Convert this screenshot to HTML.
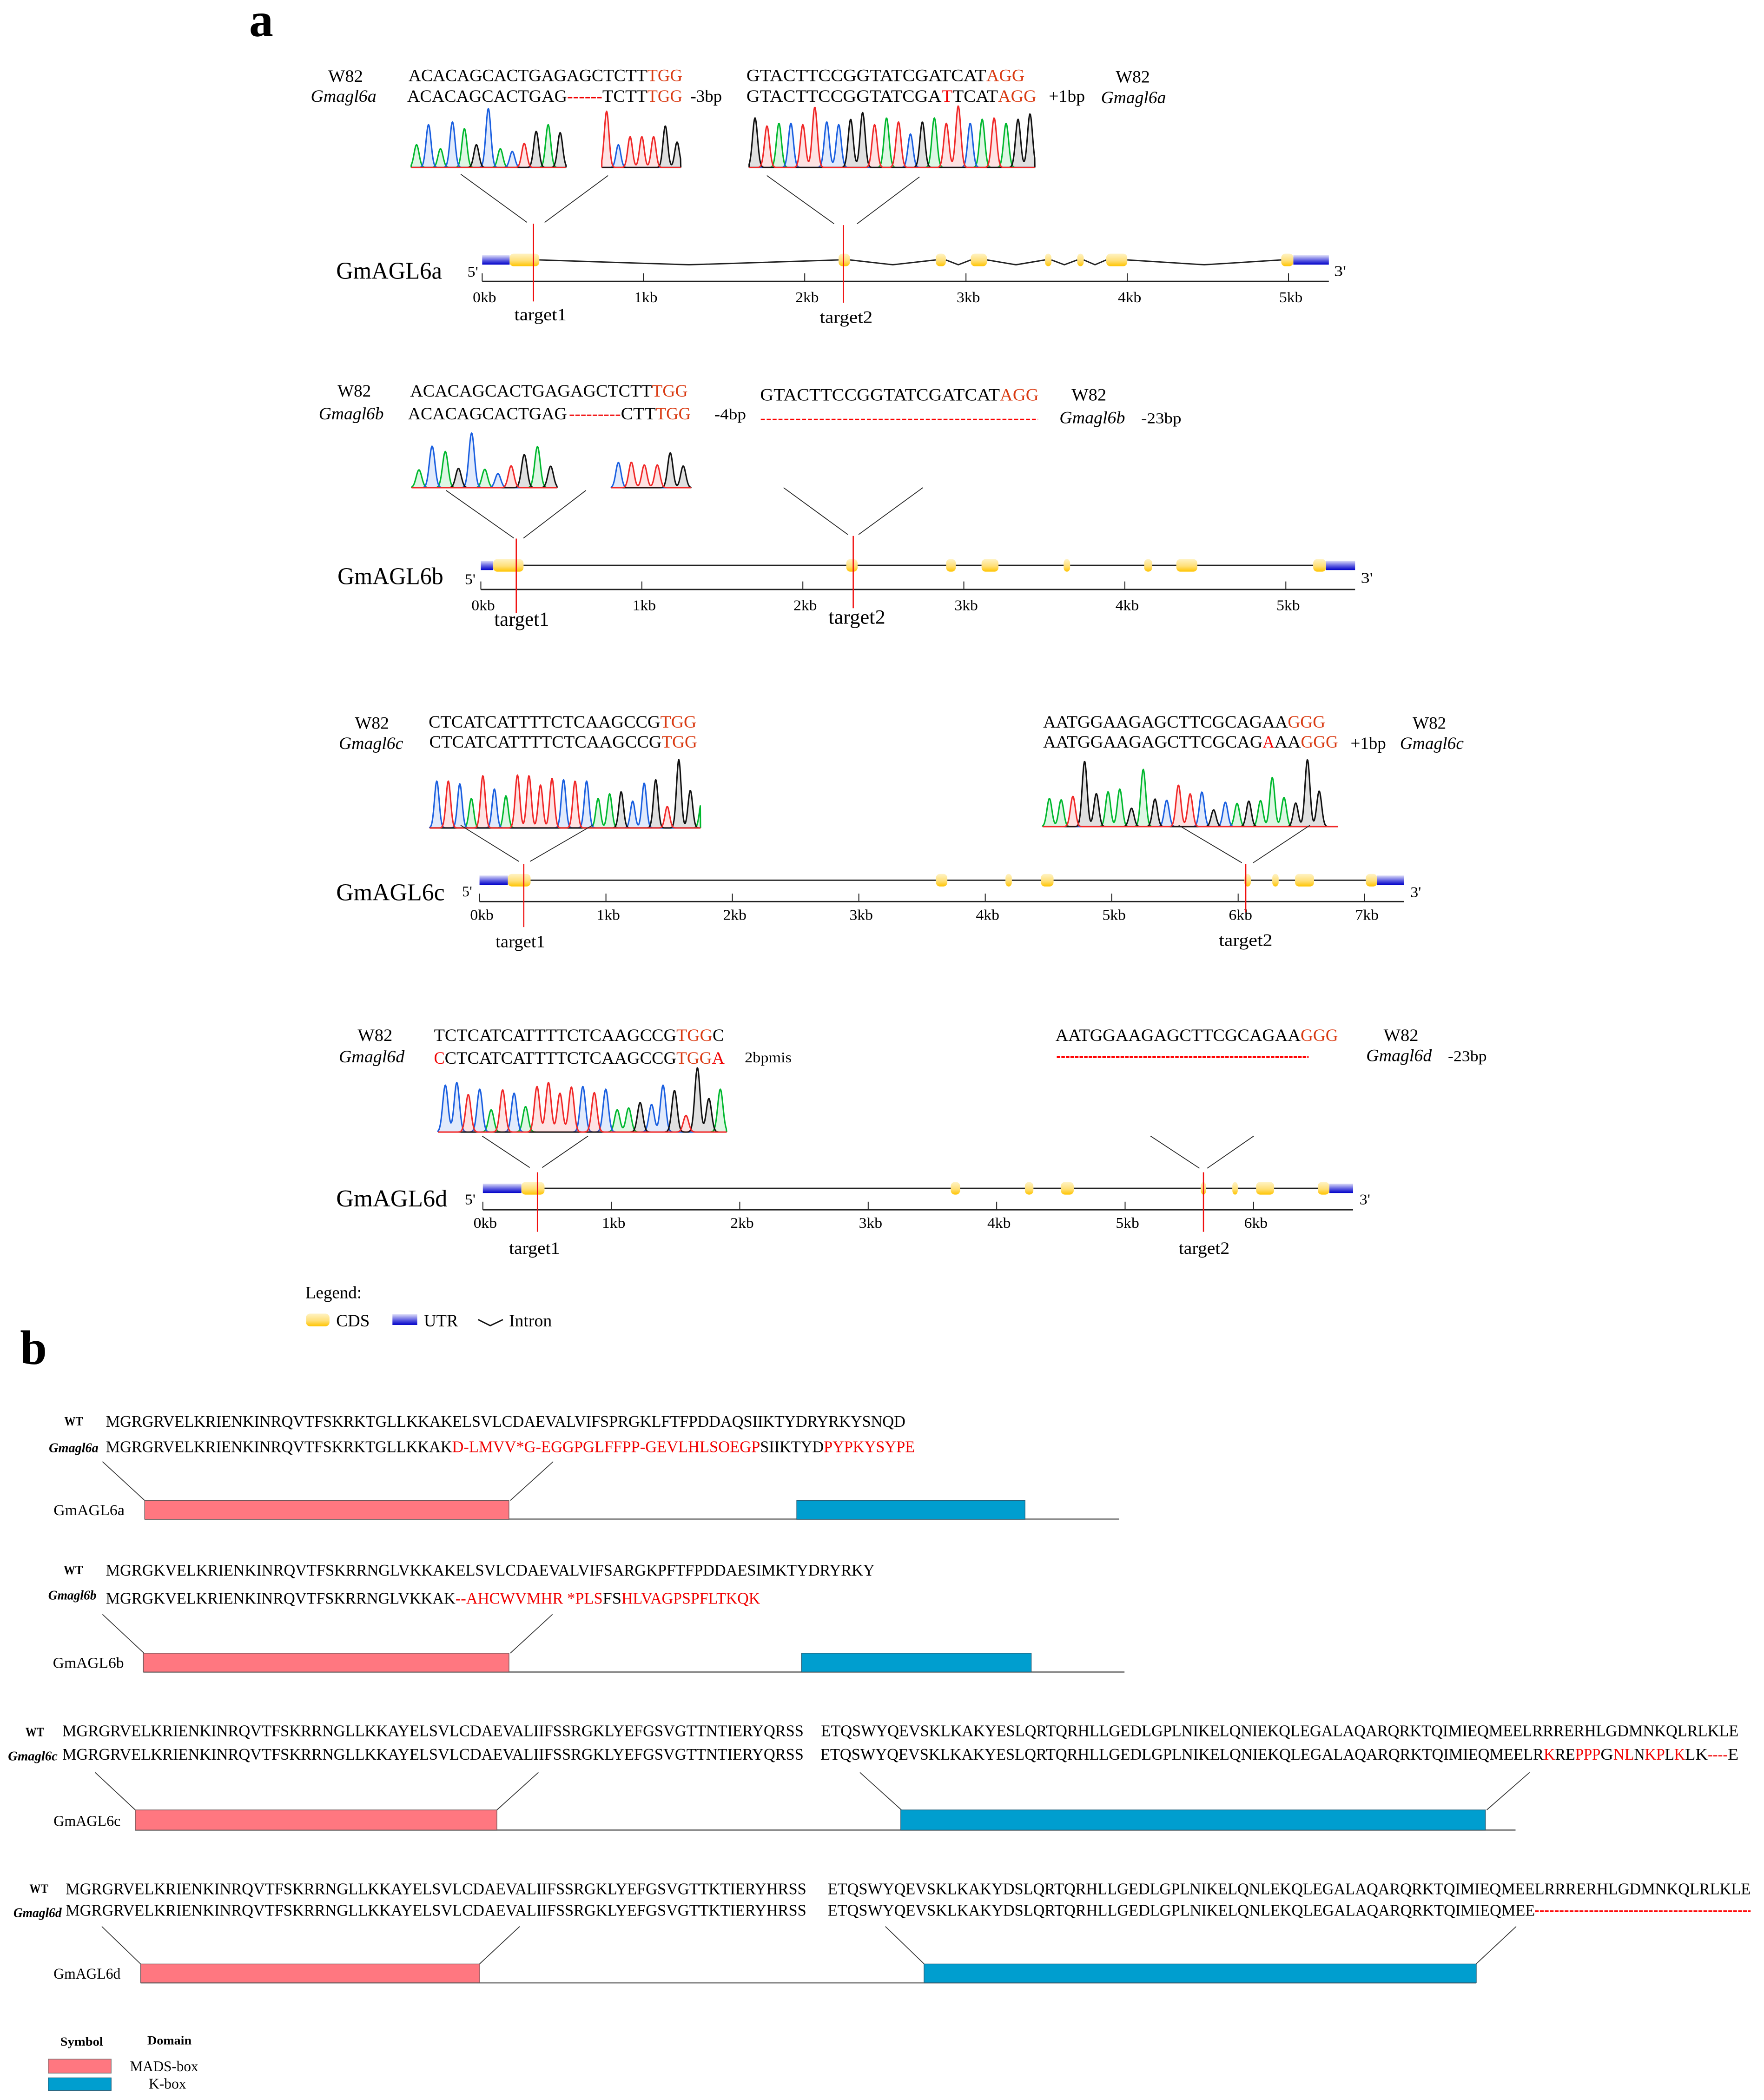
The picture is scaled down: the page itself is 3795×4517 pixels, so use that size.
<!DOCTYPE html>
<html lang="en">
<head>
<meta charset="utf-8">
<title>GmAGL6 CRISPR editing figure</title>
<style>
html,body{margin:0;padding:0;background:#fff}
svg{display:block}
text{font-family:"Liberation Serif","Noto Serif CJK SC",serif;fill:#000}
.seq{font-size:13px}
.lab{font-size:13px}
.it{font-size:13px;font-style:italic}
.sm{font-size:11.5px}
.r{fill:#d93a12}
.m{fill:#f00000}
.gene{font-size:18px}
.prime{font-size:11px}
.tgt{font-size:13px}
.tgtl{font-size:15px}
.aa{font-size:12px}
.wt{font-size:9.5px;font-weight:bold}
.bi{font-size:10px;font-weight:bold;font-style:italic}
.dom{font-size:11.5px}
.panel{font-size:36px;font-weight:bold}
.cap{font-size:9px;font-weight:bold}
.leg{font-size:11px}
</style>
</head>
<body>
<svg id="fig" xmlns="http://www.w3.org/2000/svg" width="3795" height="4517" viewBox="0 0 1317 1567.5">
<defs>
<linearGradient id="cdsGrad" x1="0" y1="0" x2="0" y2="1"><stop offset="0" stop-color="#fff3c4"/><stop offset="0.55" stop-color="#ffe07a"/><stop offset="1" stop-color="#ffc400"/></linearGradient>
<linearGradient id="utrGrad" x1="0" y1="0" x2="0" y2="1"><stop offset="0" stop-color="#dcdcf8"/><stop offset="0.55" stop-color="#5c5ce0"/><stop offset="1" stop-color="#0000c8"/></linearGradient>
</defs>
<rect x="0" y="0" width="1324" height="1576" fill="#fff"/>

<text class="panel" x="186" y="27">a</text>
<text class="panel" x="15" y="1018">b</text>

<!-- GmAGL6a sequences -->
<g>
<text class="lab" x="245" y="61" textLength="26">W82</text>
<text class="it" x="232" y="76" textLength="49">Gmagl6a</text>
<text class="seq" x="305" y="60.5" textLength="178">ACACAGCACTGAGAGCTCTT</text>
<text class="seq r" x="483.2" y="60.5" textLength="26.3">TGG</text>
<text class="seq" x="304" y="76" textLength="119.4">ACACAGCACTGAG</text>
<text class="seq m" x="423.4" y="76" textLength="26.3">------</text>
<text class="seq" x="449.7" y="76" textLength="33.5">TCTT</text>
<text class="seq r" x="483.2" y="76" textLength="26.3">TGG</text>
<text class="lab" x="515.5" y="76" textLength="23.5">-3bp</text>
<text class="seq" x="557.3" y="60.5" textLength="179">GTACTTCCGGTATCGATCAT</text>
<text class="seq r" x="736.4" y="60.5" textLength="28.6">AGG</text>
<text class="seq" x="557.3" y="76" textLength="145.6">GTACTTCCGGTATCGA</text>
<text class="seq m" x="702.9" y="76" textLength="8.3">T</text>
<text class="seq" x="711.2" y="76" textLength="33.9">TCAT</text>
<text class="seq r" x="745.1" y="76" textLength="28.7">AGG</text>
<text class="lab" x="783" y="76" textLength="27">+1bp</text>
<text class="lab" x="833" y="61.5" textLength="25.5">W82</text>
<text class="it" x="822" y="77" textLength="48.5">Gmagl6a</text>
</g>
<text class="gene" x="251" y="208" textLength="79">GmAGL6a</text>
<text class="prime" x="349" y="206.5" textLength="8">5'</text>
<text class="prime" x="996" y="206" textLength="9">3'</text>
<text class="tgt" x="384" y="239" textLength="39">target1</text>
<text class="tgt" x="612" y="241" textLength="39.5">target2</text>

<!-- GmAGL6b sequences -->
<g>
<text class="lab" x="252" y="296" textLength="25">W82</text>
<text class="it" x="238" y="313" textLength="48.5">Gmagl6b</text>
<text class="seq" x="306.2" y="296" textLength="180.5">ACACAGCACTGAGAGCTCTT</text>
<text class="seq r" x="486.7" y="296" textLength="26.8">TGG</text>
<text class="seq" x="304.6" y="313" textLength="118.7">ACACAGCACTGAG</text>
<text class="seq m" x="424.8" y="313" textLength="38.7">---------</text>
<text class="seq" x="463.5" y="313" textLength="26.1">CTT</text>
<text class="seq r" x="489.6" y="313" textLength="26.1">TGG</text>
<text class="sm" x="533.3" y="313" textLength="23.7">-4bp</text>
<text class="seq" x="567.5" y="299" textLength="179">GTACTTCCGGTATCGATCAT</text>
<text class="seq r" x="746.5" y="299" textLength="29">AGG</text>
<line x1="568" y1="313" x2="775" y2="313" stroke="#f00" stroke-width="0.9" stroke-dasharray="3 1.4"/>
<text class="lab" x="800" y="299" textLength="26">W82</text>
<text class="it" x="791" y="316" textLength="49">Gmagl6b</text>
<text class="sm" x="852" y="316" textLength="30">-23bp</text>
</g>
<text class="gene" x="252" y="436" textLength="79">GmAGL6b</text>
<text class="prime" x="347" y="436" textLength="8">5'</text>
<text class="prime" x="1016" y="435" textLength="9">3'</text>
<text class="tgtl" x="369" y="467" textLength="41">target1</text>
<text class="tgtl" x="618.5" y="465.5" textLength="42.5">target2</text>

<!-- GmAGL6c sequences -->
<g>
<text class="lab" x="265" y="544" textLength="25.5">W82</text>
<text class="it" x="253" y="559" textLength="48">Gmagl6c</text>
<text class="seq" x="320" y="543" textLength="173">CTCATCATTTTCTCAAGCCG</text>
<text class="seq r" x="493" y="543" textLength="27">TGG</text>
<text class="seq" x="320.5" y="558" textLength="173.5">CTCATCATTTTCTCAAGCCG</text>
<text class="seq r" x="494" y="558" textLength="26.5">TGG</text>
<text class="seq" x="778.8" y="543" textLength="182.6">AATGGAAGAGCTTCGCAGAA</text>
<text class="seq r" x="961.4" y="543" textLength="28.1">GGG</text>
<text class="seq" x="778.8" y="558" textLength="163.9">AATGGAAGAGCTTCGCAG</text>
<text class="seq m" x="942.7" y="558" textLength="8.8">A</text>
<text class="seq" x="951.5" y="558" textLength="19.7">AA</text>
<text class="seq r" x="971.2" y="558" textLength="27.8">GGG</text>
<text class="lab" x="1008.3" y="559" textLength="26.5">+1bp</text>
<text class="lab" x="1054.7" y="544" textLength="25">W82</text>
<text class="it" x="1045.2" y="559" textLength="47.6">Gmagl6c</text>
</g>
<text class="gene" x="251" y="672" textLength="81">GmAGL6c</text>
<text class="prime" x="345" y="669" textLength="7.5">5'</text>
<text class="prime" x="1053" y="669.5" textLength="8">3'</text>
<text class="tgt" x="370" y="707" textLength="37">target1</text>
<text class="tgt" x="910" y="706" textLength="40">target2</text>

<!-- GmAGL6d sequences -->
<g>
<text class="lab" x="267" y="777" textLength="26">W82</text>
<text class="it" x="253" y="793" textLength="49">Gmagl6d</text>
<text class="seq" x="324" y="777" textLength="181">TCTCATCATTTTCTCAAGCCG</text>
<text class="seq r" x="505" y="777" textLength="27">TGG</text>
<text class="seq" x="532" y="777" textLength="8.5">C</text>
<text class="seq m" x="324" y="794" textLength="8">C</text>
<text class="seq" x="332" y="794" textLength="173">CTCATCATTTTCTCAAGCCG</text>
<text class="seq r" x="505" y="794" textLength="26.5">TGG</text>
<text class="seq m" x="531.5" y="794" textLength="9.5">A</text>
<text class="leg" x="556" y="793" textLength="35">2bpmis</text>
<text class="seq" x="788" y="777" textLength="183">AATGGAAGAGCTTCGCAGAA</text>
<text class="seq r" x="971" y="777" textLength="28">GGG</text>
<line x1="789" y1="789" x2="977" y2="789" stroke="#f00" stroke-width="1.5" stroke-dasharray="2.6 0.8"/>
<text class="lab" x="1033" y="777" textLength="26">W82</text>
<text class="it" x="1020" y="792" textLength="49">Gmagl6d</text>
<text class="sm" x="1081" y="792" textLength="29">-23bp</text>
</g>
<text class="gene" x="251" y="900.5" textLength="83">GmAGL6d</text>
<text class="prime" x="347" y="899" textLength="8">5'</text>
<text class="prime" x="1015" y="899" textLength="8">3'</text>
<text class="tgt" x="380" y="936" textLength="38">target1</text>
<text class="tgt" x="880" y="936" textLength="38">target2</text>

<g id="traces"></g>
<g id="genes"></g>

<!-- zoom callouts -->
<g stroke="#222" stroke-width="0.6" fill="none">
<path d="M344 130L393.5 166M454 131L406.6 166"/>
<path d="M572.5 131L622.7 167M686.5 132L639.9 167"/>
<path d="M333 366L383.7 401.7M437.5 366L390.8 401.7"/>
<path d="M585 364L633 399M689 364L641 399"/>
<path d="M343.9 616L387.4 643M442.3 616L395.7 643"/>
<path d="M880 616L927.2 644M978 616L935.6 644"/>
<path d="M360 848L395.5 871.5M439 848L404.8 871.5"/>
<path d="M859 848L895.5 872M936 848L901.3 872"/>
</g>

<!-- panel a legend -->
<g>
<text class="lab" x="228" y="969" textLength="42">Legend:</text>
<rect x="228.5" y="980.5" width="17.5" height="9.5" rx="3" fill="url(#cdsGrad)"/>
<text class="lab" x="251" y="990" textLength="25">CDS</text>
<rect x="293" y="981" width="18.5" height="8" fill="url(#utrGrad)"/>
<text class="lab" x="316.5" y="990" textLength="25.5">UTR</text>
<path d="M357 985L366 989.5L375.5 985" fill="none" stroke="#111" stroke-width="1"/>
<text class="lab" x="380" y="990" textLength="32">Intron</text>
</g>

<!-- panel b text: GmAGL6a -->
<g>
<text class="wt" x="48" y="1064" textLength="14">WT</text>
<text class="aa" x="79" y="1065" textLength="597">MGRGRVELKRIENKINRQVTFSKRKTGLLKKAKELSVLCDAEVALVIFSPRGKLFTFPDDAQSIIKTYDRYRKYSNQD</text>
<text class="bi" x="36.5" y="1084" textLength="37">Gmagl6a</text>
<text class="aa" x="79" y="1084" textLength="258.5">MGRGRVELKRIENKINRQVTFSKRKTGLLKKAK</text>
<text class="aa m" x="337.5" y="1084" textLength="230">D-LMVV*G-EGGPGLFFPP-GEVLHLSOEGP</text>
<text class="aa" x="567.5" y="1084" textLength="47.5">SIIKTYD</text>
<text class="aa m" x="615" y="1084" textLength="68">PYPKYSYPE</text>
<text class="dom" x="40" y="1131" textLength="53">GmAGL6a</text>
<path d="M76.5 1091L108 1120M413 1091L381 1120" fill="none" stroke="#333" stroke-width="0.6"/>
</g>
<!-- GmAGL6b -->
<g>
<text class="wt" x="47.5" y="1175" textLength="14.5">WT</text>
<text class="aa" x="79" y="1176" textLength="574">MGRGKVELKRIENKINRQVTFSKRRNGLVKKAKELSVLCDAEVALVIFSARGKPFTFPDDAESIMKTYDRYRKY</text>
<text class="bi" x="36" y="1194" textLength="36">Gmagl6b</text>
<text class="aa" x="79" y="1197" textLength="261">MGRGKVELKRIENKINRQVTFSKRRNGLVKKAK</text>
<text class="aa m" x="340" y="1197" textLength="8">--</text>
<text class="aa m" x="348" y="1197" textLength="102">AHCWVMHR *PLS</text>
<text class="aa" x="450" y="1197" textLength="14">FS</text>
<text class="aa m" x="464" y="1197" textLength="103.5">HLVAGPSPFLTKQK</text>
<text class="dom" x="39.5" y="1245" textLength="53">GmAGL6b</text>
<path d="M76.5 1205L107.5 1234M412.5 1205L381 1234" fill="none" stroke="#333" stroke-width="0.6"/>
</g>
<!-- GmAGL6c -->
<g>
<text class="wt" x="19" y="1296" textLength="14">WT</text>
<text class="aa" x="46.5" y="1296" textLength="553.5">MGRGRVELKRIENKINRQVTFSKRRNGLLKKAYELSVLCDAEVALIIFSSRGKLYEFGSVGTTNTIERYQRSS</text>
<text class="aa" x="613" y="1296" textLength="685">ETQSWYQEVSKLKAKYESLQRTQRHLLGEDLGPLNIKELQNIEKQLEGALAQARQRKTQIMIEQMEELRRRERHLGDMNKQLRLKLE</text>
<text class="bi" x="6" y="1314" textLength="37">Gmagl6c</text>
<text class="aa" x="46.5" y="1313.5" textLength="553.5">MGRGRVELKRIENKINRQVTFSKRRNGLLKKAYELSVLCDAEVALIIFSSRGKLYEFGSVGTTNTIERYQRSS</text>
<text class="aa" x="612.5" y="1313.5" textLength="540">ETQSWYQEVSKLKAKYESLQRTQRHLLGEDLGPLNIKELQNIEKQLEGALAQARQRKTQIMIEQMEELR</text>
<text class="aa m" x="1152.5" y="1313.5" textLength="8.5">K</text>
<text class="aa" x="1161" y="1313.5" textLength="15">RE</text>
<text class="aa m" x="1176" y="1313.5" textLength="19">PPP</text>
<text class="aa" x="1195" y="1313.5" textLength="9.5">G</text>
<text class="aa m" x="1204.5" y="1313.5" textLength="15.5">NL</text>
<text class="aa" x="1220" y="1313.5" textLength="8">N</text>
<text class="aa m" x="1228" y="1313.5" textLength="15">KP</text>
<text class="aa" x="1243" y="1313.5" textLength="7">L</text>
<text class="aa m" x="1250" y="1313.5" textLength="8">K</text>
<text class="aa" x="1258" y="1313.5" textLength="17">LK</text>
<text class="aa m" x="1275" y="1313.5" textLength="15">----</text>
<text class="aa" x="1290" y="1313.5" textLength="8">E</text>
<text class="dom" x="40" y="1363" textLength="50">GmAGL6c</text>
<path d="M71 1323L101 1351M402 1323L371 1351M642 1323L673 1351M1142 1323L1110 1351" fill="none" stroke="#333" stroke-width="0.6"/>
</g>
<!-- GmAGL6d -->
<g>
<text class="wt" x="22" y="1413" textLength="14">WT</text>
<text class="aa" x="49" y="1414" textLength="553">MGRGRVELKRIENKINRQVTFSKRRNGLLKKAYELSVLCDAEVALIIFSSRGKLYEFGSVGTTKTIERYHRSS</text>
<text class="aa" x="618" y="1414" textLength="689">ETQSWYQEVSKLKAKYDSLQRTQRHLLGEDLGPLNIKELQNLEKQLEGALAQARQRKTQIMIEQMEELRRRERHLGDMNKQLRLKLE</text>
<text class="bi" x="10" y="1431" textLength="36">Gmagl6d</text>
<text class="aa" x="49" y="1430" textLength="553">MGRGRVELKRIENKINRQVTFSKRRNGLLKKAYELSVLCDAEVALIIFSSRGKLYEFGSVGTTKTIERYHRSS</text>
<text class="aa" x="618" y="1430" textLength="528">ETQSWYQEVSKLKAKYDSLQRTQRHLLGEDLGPLNIKELQNLEKQLEGALAQARQRKTQIMIEQMEE</text>
<line x1="1146" y1="1426.5" x2="1307" y2="1426.5" stroke="#f00" stroke-width="1" stroke-dasharray="2.8 0.9"/>
<text class="dom" x="40" y="1477" textLength="50">GmAGL6d</text>
<path d="M76 1438L105 1466M388 1438L358 1466M661 1438L690 1466M1132 1438L1102 1466" fill="none" stroke="#333" stroke-width="0.6"/>
</g>

<g id="domains"></g>

<!-- panel b legend -->
<g>
<text class="cap" x="45" y="1527" textLength="32">Symbol</text>
<text class="cap" x="110" y="1526" textLength="33">Domain</text>
<rect x="36" y="1537" width="47" height="10.5" fill="#ff7780" stroke="#777" stroke-width="0.5"/>
<rect x="36" y="1551" width="47" height="9.5" fill="#009ecf" stroke="#26627c" stroke-width="0.5"/>
<text class="leg" x="97" y="1546" textLength="51">MADS-box</text>
<text class="leg" x="111" y="1559" textLength="28">K-box</text>
</g>
</svg>

<script>
/* ---------- chromatogram data: called base and peak height for each trace ---------- */
const a1Bases = 'ACACAGCACTGAG';
const a1Heights = [17,32,14,34,29,17,44,14,12,18,27,32,26];
const a2Bases = 'TCTTTGG';
const a2Heights = [42,17,23,23,23,31,19];
const a3Bases = 'GTACTTCCGGTATCGATTCATAGG';
const a3Heights = [37,31,33,33,32,45,34,32,36,41,32,37,34,25,34,37,33,46,33,36,37,33,36,40];
const b1Bases = 'ACAGCACTGAG';
const b1Heights = [13.3,31,27,14.4,40.8,13.7,10.5,16.3,24.7,30.7,16];
const b2Bases = 'CTTTGG';
const b2Heights = [18.8,19,17,17,26,16.2];
const c1Bases = 'CTCATCATTTTCTCAAGCCGTGGA';
const c1Heights = [35,35,33,22,39,29,24,39.5,39,32,37,36,35,35,22,25.5,27,20,33.5,36,16,51,28,21];
const c2Bases = 'AATGGAAGAGCTTCGCAGAAAGGG';
const c2Heights = [21,20,22.6,48.7,24.6,26,28,13.7,42.7,20.6,19.7,31,24.5,25.8,12.5,18.2,17.3,19,19.4,36.7,21.7,17.6,50,26.5];
const d1Bases = 'CCTCATCATTTTCTCAAGCCGTGGA';
const d1Heights = [35,37,28,32,16.6,31.5,29,19,34,37,29,33.6,34,29.4,32,16.6,18,22,20.6,35,31,12.4,48,25,32];

/* ---------- gene structure data, kilobases ---------- */
const geneAUtrs = [[0,0.17],[5.03,5.25]];
const geneAExons = [[0.17,0.354],[2.21,2.28],[2.813,2.875],[3.03,3.13],[3.49,3.53],[3.69,3.73],[3.87,4.0],[4.955,5.03]];
const geneATargets = [0.318,2.24];
const geneATicks = [0,1,2,3,4,5];
const geneATickLabels = ['0kb','1kb','2kb','3kb','4kb','5kb'];

const geneBUtrs = [[0,0.077],[5.25,5.43]];
const geneBExons = [[0.077,0.265],[2.27,2.34],[2.89,2.95],[3.11,3.215],[3.62,3.66],[4.12,4.17],[4.32,4.45],[5.17,5.25]];
const geneBTargets = [0.22,2.313];
const geneBTicks = [0,1,2,3,4,5];
const geneBTickLabels = ['0kb','1kb','2kb','3kb','4kb','5kb'];

const geneCUtrs = [[0,0.224],[7.10,7.31]];
const geneCExons = [[0.224,0.404],[3.61,3.70],[4.16,4.21],[4.44,4.54],[6.05,6.10],[6.27,6.32],[6.45,6.60],[7.01,7.10]];
const geneCTargets = [0.35,6.06];
const geneCTicks = [0,1,2,3,4,5,6,7];
const geneCTickLabels = ['0kb','1kb','2kb','3kb','4kb','5kb','6kb','7kb'];

const geneDUtrs = [[0,0.30],[6.59,6.775]];
const geneDExons = [[0.30,0.48],[3.643,3.715],[4.22,4.286],[4.50,4.60],[5.59,5.63],[5.835,5.877],[6.02,6.16],[6.50,6.59]];
const geneDTargets = [0.425,5.61];
const geneDTicks = [0,1,2,3,4,5,6];
const geneDTickLabels = ['0kb','1kb','2kb','3kb','4kb','5kb','6kb'];

/* ---------- protein domain data, residues ---------- */
const proteinAMads = [0,60];
const proteinAKbox = [107.4,145];
const proteinALength = 160.5;
const proteinBMads = [0,60];
const proteinBKbox = [108,145.7];
const proteinBLength = 161;
const proteinCMads = [0,60];
const proteinCKbox = [127,224];
const proteinCLength = 229;
const proteinDMads = [0,60];
const proteinDKbox = [138.6,236.3];
const proteinDLength = 236.3;

const NS = 'http://www.w3.org/2000/svg';
const CHANNEL_COLORS = {A:'#00b82e',C:'#1a5fe0',G:'#111111',T:'#f02828'};
const CHANNEL_ORDER = ['A','C','G','T'];

function mk(tag, attrs, parent) {
  const node = document.createElementNS(NS, tag);
  for (const k in attrs) node.setAttribute(k, attrs[k]);
  parent.appendChild(node);
  return node;
}

function drawTrace(name, bases, heights, o) {
  const g = mk('g', {}, document.getElementById('traces'));
  
  
  const n = bases.length;
  const spacing = (o.last - o.first) / (n - 1);
  const baseX = i => o.first + i * spacing;
  const signalY = v => o.baseline - v;
  const sigma = spacing * o.width;
  CHANNEL_ORDER.forEach(ch => {
    let d = 'M' + o.left + ' ' + o.baseline;
    for (let x = o.left; x <= o.right + 0.001; x += 0.4) {
      let s = 0;
      for (let i = 0; i < n; i++) {
        if (bases[i] !== ch) continue;
        const dx = (x - baseX(i)) / sigma;
        s += heights[i] * Math.exp(-0.5 * dx * dx);
      }
      d += 'L' + x.toFixed(2) + ' ' + signalY(s).toFixed(2);
    }
    d += 'L' + o.right + ' ' + o.baseline;
    const p = mk('path', {d: d, fill: CHANNEL_COLORS[ch], 'fill-opacity': 0.13, stroke: CHANNEL_COLORS[ch], 'stroke-width': 1.05, 'stroke-linejoin': 'round'}, g);
    
    
  });
}

drawTrace('a1', a1Bases, a1Heights, {first:311, last:418.2, left:307, right:422.6, baseline:125, width:0.21});
drawTrace('a2', a2Bases, a2Heights, {first:452.9, last:505.5, left:449.3, right:508.3, baseline:125, width:0.2});
drawTrace('a3', a3Bases, a3Heights, {first:563.7, last:769, left:559.3, right:772.6, baseline:125, width:0.21});
drawTrace('b1', b1Bases, b1Heights, {first:312.8, last:411.1, left:307.3, right:416, baseline:364, width:0.21});
drawTrace('b2', b2Bases, b2Heights, {first:461.7, last:510.1, left:456.4, right:516.1, baseline:364, width:0.2});
drawTrace('c1', c1Bases, c1Heights, {first:326.1, last:524, left:320.8, right:523, baseline:618, width:0.2});
drawTrace('c2', c2Bases, c2Heights, {first:783.5, last:984.9, left:778.4, right:999, baseline:617, width:0.21});
drawTrace('d1', d1Bases, d1Heights, {first:332.5, last:537.8, left:327, right:542.5, baseline:845, width:0.23});

function drawGene(name, utrs, exons, targets, ticks, tickLabels, o) {
  const g = mk('g', {}, document.getElementById('genes'));
  
  
  const kbX = kb => o.x0 + kb * o.pxPerKb;

  /* axis */
  const axis = mk('line', {x1: kbX(0), x2: kbX(o.axisEnd), y1: o.axisY, y2: o.axisY, stroke: '#222', 'stroke-width': 1}, g);
  
  
  ticks.forEach((t, i) => {
    const tick = mk('line', {x1: kbX(t), x2: kbX(t), y1: o.axisY - 6, y2: o.axisY, stroke: '#222', 'stroke-width': 0.7}, g);
    
    
    const lab = mk('text', {x: kbX(t) - 7, y: o.labelY, 'font-size': 11, textLength: 17.5}, g);
    lab.textContent = tickLabels[i];
    
    
  });

  /* introns */
  for (let i = 0; i < exons.length - 1; i++) {
    const a = kbX(exons[i][1]);
    const b = kbX(exons[i + 1][0]);
    const mid = (a + b) / 2;
    const dip = o.zigzag ? 3.6 : 0;
    const intron = mk('polyline', {points: a + ',' + o.rowY + ' ' + mid + ',' + (o.rowY + dip) + ' ' + b + ',' + o.rowY, fill: 'none', stroke: '#222', 'stroke-width': 1}, g);
    
    
  }

  /* UTRs */
  utrs.forEach(u => {
    const r = mk('rect', {x: kbX(u[0]), y: o.rowY - 3.5, width: kbX(u[1]) - kbX(u[0]), height: 7, fill: 'url(#utrGrad)'}, g);
    
    
  });

  /* exons */
  exons.forEach(e => {
    const w = kbX(e[1]) - kbX(e[0]);
    const r = mk('rect', {x: kbX(e[0]), y: o.rowY - 4.7, width: w, height: 9.4, rx: Math.min(w / 2, 3), ry: 3, fill: 'url(#cdsGrad)'}, g);
    
    
  });

  /* target sites */
  targets.forEach((t, i) => {
    const line = mk('line', {x1: kbX(t), x2: kbX(t), y1: o.targetTop[i], y2: o.targetBottom[i], stroke: '#f01010', 'stroke-width': 0.9}, g);
    
    
  });
}

drawGene('gmagl6a', geneAUtrs, geneAExons, geneATargets, geneATicks, geneATickLabels,
  {x0:360, pxPerKb:120.4, rowY:194, axisY:210, labelY:225.5, axisEnd:5.25, zigzag:true, targetTop:[167,168], targetBottom:[225,226]});
drawGene('gmagl6b', geneBUtrs, geneBExons, geneBTargets, geneBTicks, geneBTickLabels,
  {x0:359, pxPerKb:120.2, rowY:422, axisY:440, labelY:455.5, axisEnd:5.43, zigzag:false, targetTop:[402,400], targetBottom:[457.5,454]});
drawGene('gmagl6c', geneCUtrs, geneCExons, geneCTargets, geneCTicks, geneCTickLabels,
  {x0:358, pxPerKb:94.4, rowY:657, axisY:673, labelY:686.5, axisEnd:7.31, zigzag:false, targetTop:[645,645], targetBottom:[692,681]});
drawGene('gmagl6d', geneDUtrs, geneDExons, geneDTargets, geneDTicks, geneDTickLabels,
  {x0:360.5, pxPerKb:95.9, rowY:887, axisY:903, labelY:916.5, axisEnd:6.775, zigzag:false, targetTop:[875,875], targetBottom:[919.5,919.5]});

function drawDomains(name, mads, kbox, length, o) {
  const g = mk('g', {}, document.getElementById('domains'));
  
  
  const resX = r => o.x0 + r * o.pxPerRes;
  const backbone = mk('line', {x1: resX(0), x2: resX(length), y1: o.bottom, y2: o.bottom, stroke: '#8c8c8c', 'stroke-width': 1.2}, g);
  
  
  const m = mk('rect', {x: resX(mads[0]), y: o.top, width: resX(mads[1]) - resX(mads[0]), height: o.bottom - o.top, fill: '#ff7780', stroke: '#6e5a5c', 'stroke-width': 0.5}, g);
  
  
  const k = mk('rect', {x: resX(kbox[0]), y: o.top, width: resX(kbox[1]) - resX(kbox[0]), height: o.bottom - o.top, fill: '#009ecf', stroke: '#26627c', 'stroke-width': 0.5}, g);
  
  
}

drawDomains('gmagl6a', proteinAMads, proteinAKbox, proteinALength, {x0:108, pxPerRes:4.533, top:1120, bottom:1134});
drawDomains('gmagl6b', proteinBMads, proteinBKbox, proteinBLength, {x0:107, pxPerRes:4.55, top:1234, bottom:1248});
drawDomains('gmagl6c', proteinCMads, proteinCKbox, proteinCLength, {x0:101, pxPerRes:4.5, top:1351, bottom:1366});
drawDomains('gmagl6d', proteinDMads, proteinDKbox, proteinDLength, {x0:105, pxPerRes:4.22, top:1466, bottom:1480});

/* fit every label to its measured width by scaling glyphs */
document.querySelectorAll('#fig text').forEach(t => {
  if (t.hasAttribute('textLength')) t.setAttribute('lengthAdjust', 'spacingAndGlyphs');
});
</script>
</body>
</html>
